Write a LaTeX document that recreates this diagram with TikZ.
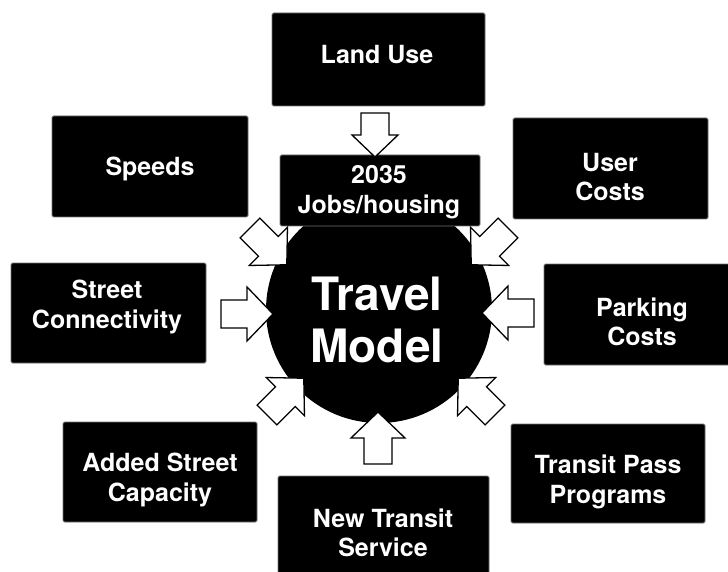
\documentclass[tikz,border=0pt]{standalone}
\usepackage{fontspec}
\setmainfont{TeX Gyre Heros}
\usetikzlibrary{calc}
\tikzset{
  box/.style={fill=black, draw=black!55, line width=0.8pt, rounded corners=1.5pt, inner sep=0pt},
  txt/.style={text=white, font=\bfseries\fontsize{25}{29.5}\selectfont, align=center, inner sep=0pt},
  bigtxt/.style={text=white, font=\bfseries\fontsize{46}{52}\selectfont, align=center, inner sep=0pt},
  arrowsty/.style={fill=white, draw=black, line width=1.3pt, line join=miter},
  pics/barrow/.style n args={2}{code={
    \draw[arrowsty] (0,-14) -- ({#1-#2},-14) -- ({#1-#2},{-#2-1}) -- (#1,0)
      -- ({#1-#2},{#2+1}) -- ({#1-#2},14) -- (0,14) -- cycle;}}
}
\begin{document}
\begin{tikzpicture}[x=1pt,y=-1pt]
\useasboundingbox (0,0) rectangle (728,572);
% central circle
\node[circle, fill=black, minimum size=226pt, inner sep=0pt] (model) at (379,310) {};
% boxes
\node[box, minimum width=213pt, minimum height=93pt]  (landuse) at (378.5,59.5) {};
\node[box, minimum width=196pt, minimum height=101pt] (speeds)  at (150,166.5) {};
\node[box, minimum width=200pt, minimum height=71pt]  (jobs)    at (380,190.5) {};
\node[box, minimum width=195pt, minimum height=101pt] (user)    at (610.5,168.5) {};
\node[box, minimum width=195pt, minimum height=100pt] (street)  at (108.5,313) {};
\node[box, minimum width=190pt, minimum height=101pt] (parking) at (639,314.5) {};
\node[box, minimum width=194pt, minimum height=100pt] (added)   at (160,472) {};
\node[box, minimum width=211pt, minimum height=102pt] (newtr)   at (383.5,527) {};
\node[box, minimum width=194pt, minimum height=99pt]  (pass)    at (608,473.5) {};
% texts
\node[txt] (tlanduse) at (377,55) {Land Use};
\node[txt] (tspeeds)  at (150,169) {Speeds};
\node[txt] (tjobs)    at (379,192) {2035\\Jobs/housing};
\node[txt] (tuser)    at (610,177) {User\\Costs};
\node[txt] (tstreet)  at (107,307) {Street\\Connectivity};
\node[txt] (tparking) at (642,322) {Parking\\Costs};
\node[txt] (tadded)   at (160,480) {Added Street\\Capacity};
\node[txt] (tnewtr)   at (383,533) {New Transit\\Service};
\node[txt] (tpass)    at (608,482) {Transit Pass\\Programs};
\node[bigtxt] (tmodel) at (377,320) {Travel\\Model};
% block arrows (tail coordinates)
\coordinate (a1) at (375,113);
\coordinate (a2) at (250,228);
\coordinate (a3) at (508,228);
\coordinate (a4) at (221,314);
\coordinate (a5) at (534,313);
\coordinate (a6) at (267,415);
\coordinate (a7) at (495,415);
\coordinate (a8) at (378,464);
\pic[rotate=-90]  at (a1) {barrow={44}{22}};
\pic[rotate=-45]  at (a2) {barrow={52}{26}};
\pic[rotate=-135] at (a3) {barrow={52}{26}};
\pic[rotate=0]    at (a4) {barrow={52}{26}};
\pic[rotate=180]  at (a5) {barrow={52}{26}};
\pic[rotate=45]   at (a6) {barrow={52}{26}};
\pic[rotate=135]  at (a7) {barrow={52}{26}};
\pic[rotate=90]   at (a8) {barrow={52}{26}};
\end{tikzpicture}
\end{document}
